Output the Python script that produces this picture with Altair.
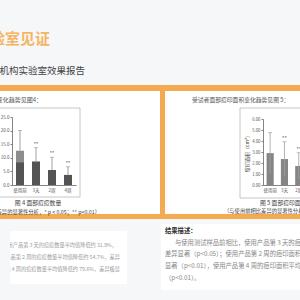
import altair as alt
import pandas as pd

FONT = "Noto Sans CJK SC"
ORANGE = "#f4aa50"

# ---------------- data ----------------
left_groups = ["使用前", "3天", "2周", "4周"]
left_means = [12.6, 8.6, 5.5, 3.7]
left_sd = [7.4, 5.1, 4.7, 3.0]
left_dark = [8.3, 8.6, 5.5, 3.7]
left_sig = ["", "**", "**", "**"]
left_ticks = [0, 5, 10, 15, 20, 25]

right_groups = ["使用前", "3天", "2周", "4周"]
right_means = [2.9, 2.36, 1.73, 1.3]
right_sd = [1.85, 1.57, 1.2, 0.9]
right_sig = ["", "**", "**", "**"]
right_ticks = [0, 1, 2, 3, 4, 5, 6]

left_df = pd.DataFrame({
    "g": left_groups, "mean": left_means, "dark": left_dark,
    "upper": [m + s for m, s in zip(left_means, left_sd)], "sig": left_sig,
})
right_df = pd.DataFrame({
    "g": right_groups, "mean": right_means,
    "upper": [m + s for m, s in zip(right_means, right_sd)],
    "lower": [m - s for m, s in zip(right_means, right_sd)], "sig": right_sig,
})

# ---------------- layout helpers ----------------
def rects(rows, stroke="transparent", sw=0):
    df = pd.DataFrame(rows, columns=["x", "x2", "y", "y2", "fill"])
    return alt.Chart(df).mark_rect(stroke=stroke, strokeWidth=sw).encode(
        x=alt.X("x:Q", scale=None, axis=None),
        x2="x2:Q",
        y=alt.Y("y:Q", scale=None, axis=None),
        y2="y2:Q",
        fill=alt.Fill("fill:N", scale=None, legend=None),
    )

def texts(rows, align="left", weight="normal"):
    df = pd.DataFrame(rows, columns=["t", "x", "y", "size", "c"])
    return alt.Chart(df).mark_text(align=align, baseline="middle", font=FONT,
                                   fontWeight=weight).encode(
        x=alt.X("x:Q", scale=None, axis=None),
        y=alt.Y("y:Q", scale=None, axis=None),
        text="t:N",
        size=alt.Size("size:Q", scale=None, legend=None),
        color=alt.Color("c:N", scale=None, legend=None),
    )

panels = rects([
    (0, 300, 85, 91, ORANGE),
    (0, 160, 91, 214, "#ffffff"),
    (165, 300, 91, 214, "#ffffff"),
    (160, 165, 85, 219, ORANGE),
    (0, 300, 214, 219, ORANGE),
    (10, 127, 231, 284, "#ffffff"),
    (161, 300, 224, 290, "#ffffff"),
])
boxes = rects([
    (-2, 80, 108, 197, "#ffffff"),
    (240, 306, 108, 198, "#ffffff"),
], stroke="#b8b8b8", sw=0.8)

# ---------------- left chart ----------------
lx = alt.X("g:N", sort=left_groups,
           scale=alt.Scale(range=[12, 76], paddingInner=0.5, paddingOuter=0.25),
           axis=alt.Axis(orient="bottom", offset=-115, title=None, labelAngle=0,
                         labelFontSize=4.5, ticks=False, labelPadding=2, zindex=1))
ly_scale = alt.Scale(domain=[0, 25], range=[185, 117])
ly_axis = alt.Axis(orient="left", offset=-12, title=None, values=left_ticks,
                   format=".1f", labelFontSize=4.5, tickSize=2, labelPadding=1, zindex=1)
lbase = alt.Chart(left_df)
left = alt.layer(
    lbase.mark_bar(color="#8d8d8d").encode(x=lx, y=alt.Y("mean:Q", scale=ly_scale, axis=ly_axis)),
    lbase.mark_bar(color="#545454").encode(x=lx, y=alt.Y("dark:Q", scale=ly_scale, axis=ly_axis)),
    lbase.mark_rule(color="#8a8a8a", strokeWidth=0.8).encode(
        x=lx, y=alt.Y("mean:Q", scale=ly_scale, axis=ly_axis), y2="upper:Q"),
    lbase.mark_tick(color="#8a8a8a", size=4, thickness=0.8, orient="horizontal").encode(
        x=lx, y=alt.Y("upper:Q", scale=ly_scale, axis=ly_axis)),
    lbase.mark_text(dy=-4, fontSize=5, color="#555", font=FONT).encode(
        x=lx, y=alt.Y("upper:Q", scale=ly_scale, axis=ly_axis), text="sig:N"),
)

# ---------------- right chart ----------------
rx = alt.X("g:N", sort=right_groups,
           scale=alt.Scale(range=[263, 320.2], paddingInner=0.5, paddingOuter=0.25),
           axis=alt.Axis(orient="bottom", offset=-115, title=None, labelAngle=0,
                         labelFontSize=4.5, ticks=False, labelPadding=2, zindex=1))
ry_scale = alt.Scale(domain=[0, 6], range=[185, 119])
ry_axis = alt.Axis(orient="left", offset=-263, title="痘印面积（cm²）", values=right_ticks,
                   format=".2f", labelFontSize=4.3, tickSize=2, labelPadding=1,
                   titleFontSize=5, titleFontWeight="normal", titlePadding=2,
                   titleColor="#444", zindex=1)
rbase = alt.Chart(right_df)
right = alt.layer(
    rbase.mark_bar(color="#858585").encode(x=rx, y=alt.Y("mean:Q", scale=ry_scale, axis=ry_axis)),
    rbase.mark_rule(color="#a0a0a0", strokeWidth=0.8).encode(
        x=rx, y=alt.Y("lower:Q", scale=ry_scale, axis=ry_axis), y2="upper:Q"),
    rbase.mark_tick(color="#8a8a8a", size=4, thickness=0.8, orient="horizontal").encode(
        x=rx, y=alt.Y("upper:Q", scale=ry_scale, axis=ry_axis)),
    rbase.mark_text(dy=-4, fontSize=5, color="#555", font=FONT).encode(
        x=rx, y=alt.Y("upper:Q", scale=ry_scale, axis=ry_axis), text="sig:N"),
)

# ---------------- texts ----------------
title = texts([("权威实验室见证", 50, 39, 15, "#f5b562")], align="right", weight="bold")
right_aligned = texts([
    ("第三方机构实验室效果报告", 85, 71, 9.5, "#444444"),
    ("受试者面部痘痘数量变化趋势见图4：", 42, 100, 6, "#555555"),
    ("（与使用前相比差异的显著性分析，* p < 0.05；** p<0.01）", 100, 212, 5.3, "#444444"),
    ("与使用测试样品前相比，使用产品第 3 天的痘痘数量平均值降低约 31.9%，", 117, 245, 5.2, "#9a9a9a"),
    ("差异显著（p<0.05）；使用产品第 2 周的痘痘数量平均值降低约 54.7%，差异", 120, 257, 5.2, "#9a9a9a"),
    ("极显著（p<0.01）；使用产品第 4 周的痘痘数量平均值降低约 79.6%，差异极显", 120, 269, 5.2, "#9a9a9a"),
], align="right")
centered = texts([("图 4   面部痘痘数量", 38, 203, 5.8, "#444444")], align="center")
left_aligned = texts([
    ("受试者面部痘印面积变化趋势见图 5：", 192, 100, 5.8, "#555555"),
    ("图 5   面部痘印面积", 260, 203, 5.8, "#444444"),
    ("（与使用前相比差异的显著性分析，* p < 0.05；** p<0.01）", 224, 211, 5.3, "#444444"),
    ("与使用测试样品前相比，使用产品第 3 天的痘印面积平均值", 175, 243, 6.3, "#888888"),
    ("差异显著（p<0.05）；使用产品第 2 周的痘印面积平均值", 165, 254, 6.3, "#888888"),
    ("显著（p<0.01），使用产品第 4 周的痘印面积平均值", 165, 266, 6.3, "#888888"),
    ("（p<0.01）。", 165, 278, 6.3, "#888888"),
])
bold_left = texts([("结果描述：", 165, 231, 6.3, "#333333")], weight="bold")
mask = rects([(0, 10, 231, 284, "#f6f7f9")])

chart = alt.layer(
    panels, boxes, left, right, title, right_aligned, centered, left_aligned, bold_left, mask
).resolve_scale(x="independent", y="independent").properties(
    width=300, height=300, padding=0, autosize="none", background="#f6f7f9"
).configure_view(stroke=None).configure_axis(
    labelFont=FONT, titleFont=FONT, labelColor="#555555", domainColor="#666666",
    tickColor="#666666", grid=False, domainWidth=0.8, tickWidth=0.8
)

chart.save("out.html", embed_options={"renderer": "svg", "actions": False})
